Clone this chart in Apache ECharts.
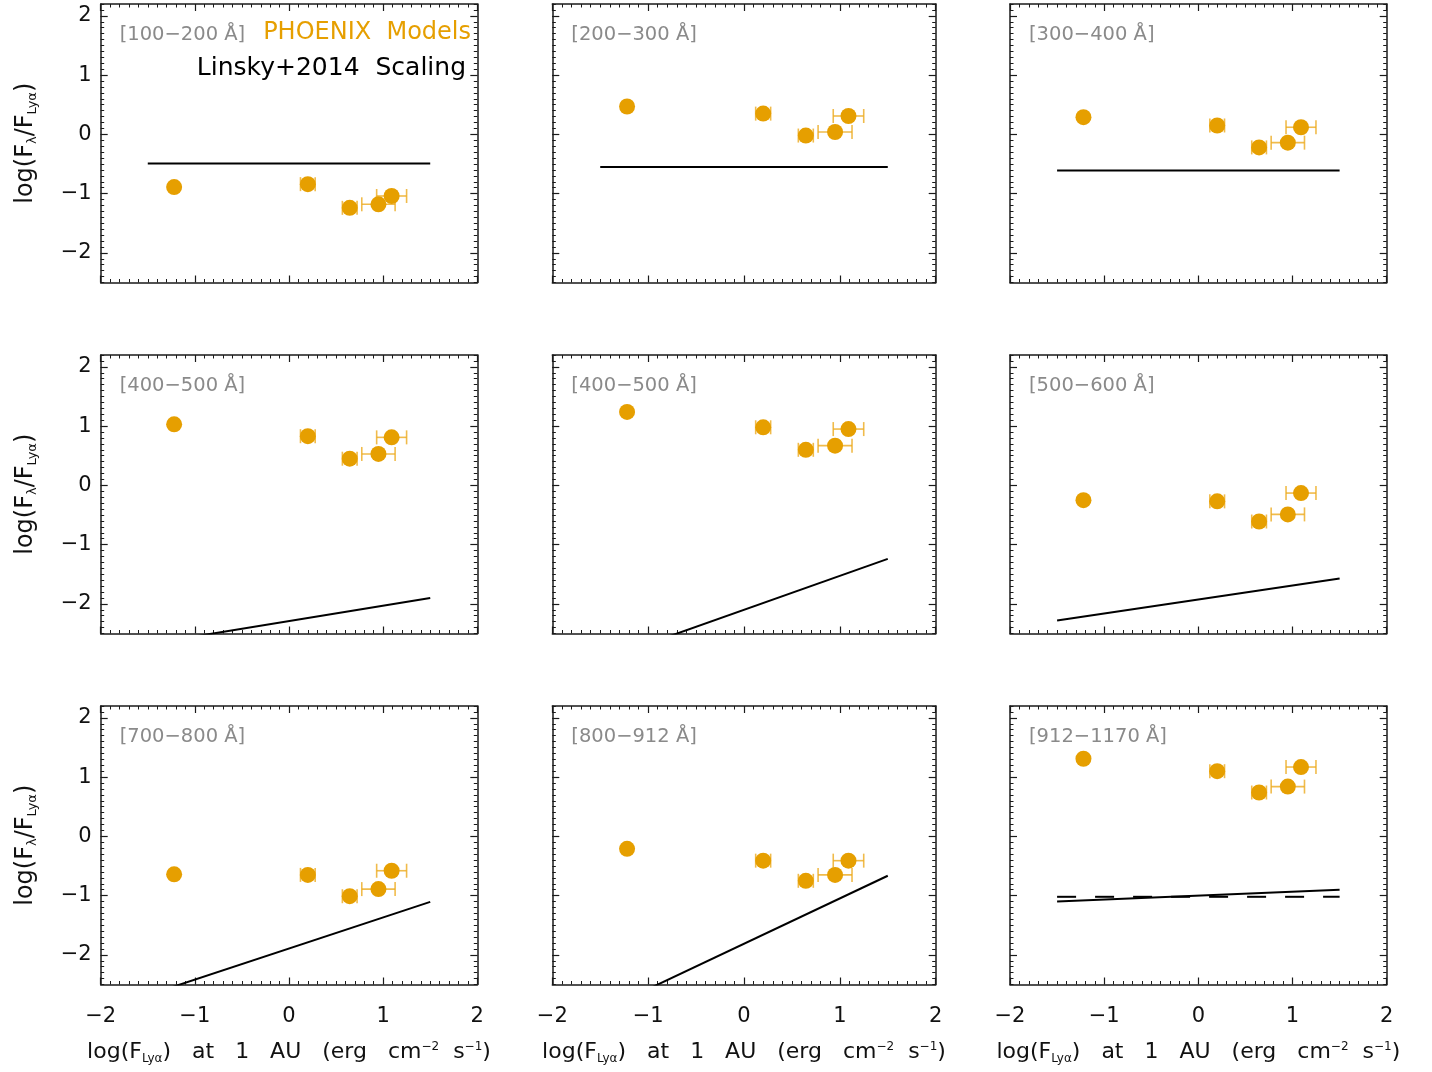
<!DOCTYPE html>
<html>
<head>
<meta charset="utf-8">
<script src="https://cdn.jsdelivr.net/npm/echarts@6/dist/echarts.min.js"></script>
<style>
html,body{margin:0;padding:0;background:#fff;}
#chart{width:1432px;height:1072px;}
</style>
</head>
<body>
<div id="chart"></div>
<script>
// ---- data ----
const xLya = [-1.22, 0.20, 0.645, 0.95, 1.09];        // log(F_Lya) at 1 AU
const xLyaErr = [0, 0.078, 0.078, 0.177, 0.159];       // x error (half width)
const panelLabels = ['[100\u2212200 \u00c5]', '[200\u2212300 \u00c5]', '[300\u2212400 \u00c5]',
                     '[400\u2212500 \u00c5]', '[400\u2212500 \u00c5]', '[500\u2212600 \u00c5]',
                     '[700\u2212800 \u00c5]', '[800\u2212912 \u00c5]', '[912\u22121170 \u00c5]'];
const phoenix100_200 = [-0.89, -0.84, -1.24, -1.18, -1.04];
const phoenix200_300 = [0.47, 0.35, -0.02, 0.04, 0.31];
const phoenix300_400 = [0.29, 0.15, -0.22, -0.14, 0.12];
const phoenix400_500a = [1.03, 0.83, 0.45, 0.53, 0.81];
const phoenix400_500b = [1.24, 0.98, 0.60, 0.67, 0.95];
const phoenix500_600 = [-0.25, -0.27, -0.61, -0.49, -0.13];
const phoenix700_800 = [-0.64, -0.65, -1.01, -0.89, -0.58];
const phoenix800_912 = [-0.21, -0.41, -0.75, -0.65, -0.41];
const phoenix912_1170 = [1.31, 1.10, 0.74, 0.84, 1.17];
// Linsky+2014 scaling lines: x endpoints and y endpoints
const linskyX = [-1.5, 1.5];
const linsky100_200 = [-0.49, -0.49];
const linsky200_300 = [-0.55, -0.55];
const linsky300_400 = [-0.61, -0.61];
const linsky400_500a = [-2.68, -1.90];
const linsky400_500b = [-2.96, -1.24];
const linsky500_600 = [-2.28, -1.57];
const linsky700_800 = [-2.68, -1.105];
const linsky800_912 = [-2.96, -0.665];
const linsky912_1170 = [-1.10, -0.90];
const dashed912_1170 = [-1.02, -1.02];
const xTicks = [-2, -1, 0, 1, 2];
const yTicks = [-2, -1, 0, 1, 2];

const phoenixSets = [phoenix100_200, phoenix200_300, phoenix300_400, phoenix400_500a, phoenix400_500b,
                     phoenix500_600, phoenix700_800, phoenix800_912, phoenix912_1170];
const linskySets = [linsky100_200, linsky200_300, linsky300_400, linsky400_500a, linsky400_500b,
                    linsky500_600, linsky700_800, linsky800_912, linsky912_1170];

// ---- layout ----
const colLeft = [100.7, 552.3, 1010];
const colWidth = [376.6, 383.4, 376.7];
const rowTop = [4, 355, 706];
const rowHeight = 278.5;
const YMIN = -2.5, YMAX = 2.2;
const ORANGE = '#E69F00';
const FONT = 'DejaVu Sans';

const fmt = v => (v < 0 ? '\u2212' + Math.abs(v) : String(v));
const minorY = [];
for (let i = -25; i <= 22; i++) minorY.push(+(i / 10).toFixed(1));

const axisLineStyle = { color: '#1a1a1a', width: 1.5 };

const grids = [], xAxes = [], yAxes = [], series = [], graphics = [];

const xName = 'log(F{sub|Ly\u03b1})   at   1   AU   (erg   cm{sup|\u22122}  s{sup|\u22121})';
const yName = 'log(F{sub|\u03bb}/F{sub|Ly\u03b1})';
const richX = {
  sub: { fontSize: 12, fontFamily: FONT, verticalAlign: 'bottom', lineHeight: 24 },
  sup: { fontSize: 12, fontFamily: FONT, verticalAlign: 'top', lineHeight: 24 }
};
const richY = {
  sub: { fontSize: 13, fontFamily: FONT, verticalAlign: 'bottom', lineHeight: 26 }
};

for (let p = 0; p < 9; p++) {
  const r = Math.floor(p / 3), c = p % 3;
  grids.push({ left: colLeft[c], top: rowTop[r], width: colWidth[c], height: rowHeight, show: false });
  const showX = r === 2, showY = c === 0;
  const xi = xAxes.length;
  // bottom main
  xAxes.push({
    gridIndex: p, type: 'value', position: 'bottom', min: -2, max: 2, interval: 1,
    axisLine: { show: true, onZero: false, lineStyle: axisLineStyle },
    axisTick: { show: true, inside: true, length: 7, lineStyle: { color: '#1a1a1a', width: 1.2 } },
    minorTick: { show: true, splitNumber: 10, length: 3.5, lineStyle: { color: '#1a1a1a', width: 1 } },
    splitLine: { show: false }, minorSplitLine: { show: false },
    axisLabel: { show: showX, formatter: fmt, fontSize: 21, fontFamily: FONT, color: '#111', margin: 22 },
    name: showX ? xName : '', nameLocation: 'middle', nameGap: 56,
    nameTextStyle: { fontSize: 22, fontFamily: FONT, color: '#111', rich: richX }
  });
  // top mirror
  xAxes.push({
    gridIndex: p, type: 'value', position: 'top', min: -2, max: 2, interval: 1,
    axisLine: { show: true, onZero: false, lineStyle: axisLineStyle },
    axisTick: { show: true, inside: true, length: 7, lineStyle: { color: '#1a1a1a', width: 1.2 } },
    minorTick: { show: true, splitNumber: 10, length: 3.5, lineStyle: { color: '#1a1a1a', width: 1 } },
    splitLine: { show: false }, axisLabel: { show: false }
  });
  const yi = yAxes.length;
  // left main
  yAxes.push({
    gridIndex: p, type: 'value', position: 'left', min: YMIN, max: YMAX,
    axisLine: { show: true, onZero: false, lineStyle: axisLineStyle },
    axisTick: { show: true, inside: true, length: 7, customValues: yTicks, lineStyle: { color: '#1a1a1a', width: 1.2 } },
    splitLine: { show: false },
    axisLabel: { show: showY, customValues: yTicks, formatter: fmt, fontSize: 21, fontFamily: FONT, color: '#111', margin: 9 },
    name: showY ? yName : '', nameLocation: 'middle', nameGap: 62,
    nameTextStyle: { fontSize: 24, fontFamily: FONT, color: '#111', rich: richY }
  });
  // left minor
  yAxes.push({
    gridIndex: p, type: 'value', position: 'left', min: YMIN, max: YMAX,
    axisLine: { show: false, onZero: false },
    axisTick: { show: true, inside: true, length: 3.5, customValues: minorY, lineStyle: { color: '#1a1a1a', width: 1 } },
    splitLine: { show: false }, axisLabel: { show: false }
  });
  // right main
  yAxes.push({
    gridIndex: p, type: 'value', position: 'right', min: YMIN, max: YMAX,
    axisLine: { show: true, onZero: false, lineStyle: axisLineStyle },
    axisTick: { show: true, inside: true, length: 7, customValues: yTicks, lineStyle: { color: '#1a1a1a', width: 1.2 } },
    splitLine: { show: false }, axisLabel: { show: false }
  });
  // right minor
  yAxes.push({
    gridIndex: p, type: 'value', position: 'right', min: YMIN, max: YMAX,
    axisLine: { show: false, onZero: false },
    axisTick: { show: true, inside: true, length: 3.5, customValues: minorY, lineStyle: { color: '#1a1a1a', width: 1 } },
    splitLine: { show: false }, axisLabel: { show: false }
  });

  const ys = phoenixSets[p];
  const pts = xLya.map((x, i) => [x, ys[i], xLyaErr[i]]);
  // Linsky line
  series.push({
    type: 'line', xAxisIndex: xi, yAxisIndex: yi, clip: true, showSymbol: false, symbol: 'none',
    data: linskyX.map((x, i) => [x, linskySets[p][i]]),
    lineStyle: { color: '#000', width: 2 }, z: 2, animation: false
  });
  if (p === 8) {
    series.push({
      type: 'line', xAxisIndex: xi, yAxisIndex: yi, clip: true, showSymbol: false, symbol: 'none',
      data: linskyX.map((x, i) => [x, dashed912_1170[i]]),
      lineStyle: { color: '#000', width: 2, type: [19, 19] }, z: 2, animation: false
    });
  }
  // error bars
  series.push({
    type: 'custom', xAxisIndex: xi, yAxisIndex: yi, data: pts, z: 3, animation: false,
    renderItem: (params, api) => {
      const x = api.value(0), y = api.value(1), e = api.value(2);
      if (!e) return null;
      const a = api.coord([x - e, y]), b = api.coord([x + e, y]);
      const st = { stroke: 'rgba(236,170,30,0.8)', lineWidth: 1.6 };
      return { type: 'group', children: [
        { type: 'line', shape: { x1: a[0], y1: a[1], x2: b[0], y2: b[1] }, style: st },
        { type: 'line', shape: { x1: a[0], y1: a[1] - 7, x2: a[0], y2: a[1] + 7 }, style: st },
        { type: 'line', shape: { x1: b[0], y1: b[1] - 7, x2: b[0], y2: b[1] + 7 }, style: st }
      ]};
    }
  });
  series.push({
    type: 'scatter', xAxisIndex: xi, yAxisIndex: yi, data: pts.map(d => [d[0], d[1]]),
    symbol: 'circle', symbolSize: 16, itemStyle: { color: ORANGE, opacity: 1 }, z: 4, animation: false
  });

  graphics.push({
    type: 'text', x: colLeft[c] + 19, y: rowTop[r] + 31,
    style: { text: panelLabels[p], fill: '#8a8a8a', fontSize: 19.5, fontFamily: FONT, textVerticalAlign: 'middle', textAlign: 'left' }
  });
}

graphics.push({
  type: 'text', x: 471, y: 33,
  style: { text: 'PHOENIX  Models', fill: ORANGE, fontSize: 24, fontFamily: FONT, textAlign: 'right', textVerticalAlign: 'middle' }
});
graphics.push({
  type: 'text', x: 466, y: 68,
  style: { text: 'Linsky+2014  Scaling', fill: '#000', fontSize: 25, fontFamily: FONT, textAlign: 'right', textVerticalAlign: 'middle' }
});

const chart = echarts.init(document.getElementById('chart'), null, { renderer: 'canvas' });
chart.setOption({
  backgroundColor: '#fff',
  animation: false,
  grid: grids, xAxis: xAxes, yAxis: yAxes, series: series, graphic: graphics
});
</script>
</body>
</html>
